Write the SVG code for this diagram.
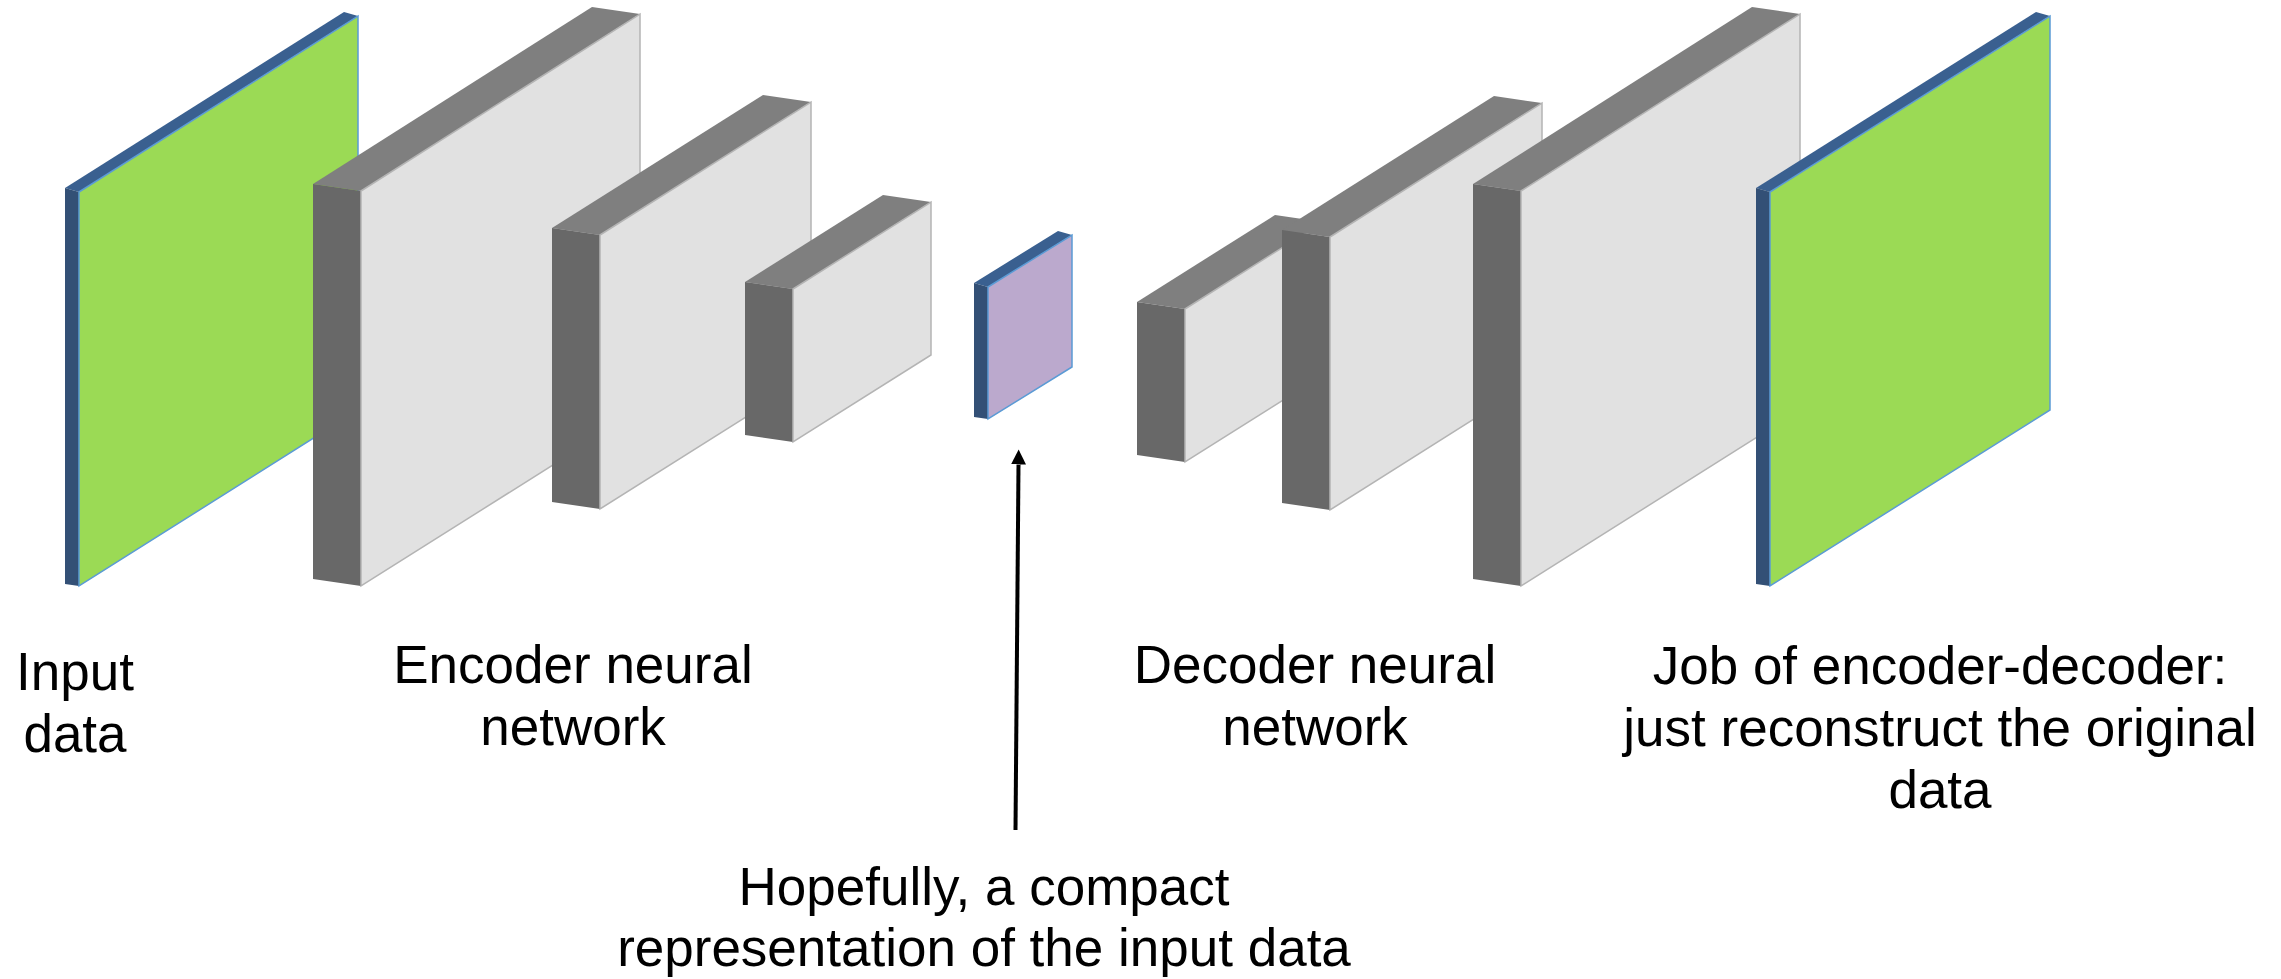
<svg xmlns="http://www.w3.org/2000/svg" width="2281" height="979" viewBox="0 0 2281 979">
  <style>
    .front-g { fill: #9BDA55; stroke: #5B9BD5; stroke-width: 1.5; }
    .front-p { fill: #BBA9CD; stroke: #5B9BD5; stroke-width: 1.5; }
    .edge-top { fill: #3A6090; }
    .edge-side { fill: #335076; }
    .box-front { fill: #E1E1E1; stroke: #B4B4B4; stroke-width: 1.5; }
    .box-top { fill: #7F7F7F; }
    .box-side { fill: #686868; }
    .label { font-family: "Liberation Sans", Arial, sans-serif; font-size: 53px; fill: #000; text-anchor: middle; }
    .conn { stroke: #000; stroke-width: 4; fill: none; }
  </style>
  <defs>
    <marker id="arrowhead" markerWidth="15" markerHeight="15" refX="0" refY="7.5" orient="auto" markerUnits="userSpaceOnUse" viewBox="0 0 15 15">
      <path d="M0,0 L15,7.5 L0,15 Z" fill="#000"/>
    </marker>
  </defs>

  <!-- input layer (thin plate) -->
  <g id="input-layer">
    <polygon class="edge-top" points="65,188 344,12 358,16 79,192"/>
    <polygon class="edge-side" points="65,188 79,192 79,586 65,584"/>
    <polygon class="front-g" points="79,192 358,16 358,410 79,586"/>
  </g>

  <!-- encoder blocks -->
  <g id="encoder-block-1">
    <polygon class="box-top" points="313,184 592,7 640,14 361,191"/>
    <polygon class="box-side" points="313,184 361,191 361,586 313,579"/>
    <polygon class="box-front" points="361,191 640,14 640,410 361,586"/>
  </g>
  <g id="encoder-block-2">
    <polygon class="box-top" points="552,228 763,95 811,102 600,235"/>
    <polygon class="box-side" points="552,228 600,235 600,509 552,502"/>
    <polygon class="box-front" points="600,235 811,102 811,376 600,509"/>
  </g>
  <g id="encoder-block-3">
    <polygon class="box-top" points="745,282 883,195 931,202 793,289"/>
    <polygon class="box-side" points="745,282 793,289 793,442 745,435"/>
    <polygon class="box-front" points="793,289 931,202 931,355 793,442"/>
  </g>

  <!-- compact code (thin plate) -->
  <g id="code-layer">
    <polygon class="edge-top" points="974,283 1058,231 1072,235 988,287"/>
    <polygon class="edge-side" points="974,283 988,287 988,419 974,417"/>
    <polygon class="front-p" points="988,287 1072,235 1072,367 988,419"/>
  </g>

  <!-- decoder blocks -->
  <g id="decoder-block-1">
    <polygon class="box-top" points="1137,302 1275,215 1323,222 1185,309"/>
    <polygon class="box-side" points="1137,302 1185,309 1185,462 1137,455"/>
    <polygon class="box-front" points="1185,309 1323,222 1323,375 1185,462"/>
  </g>
  <g id="decoder-block-2">
    <polygon class="box-top" points="1282,230 1494,96 1542,103 1330,237"/>
    <polygon class="box-side" points="1282,230 1330,237 1330,510 1282,503"/>
    <polygon class="box-front" points="1330,237 1542,103 1542,376 1330,510"/>
  </g>
  <g id="decoder-block-3">
    <polygon class="box-top" points="1473,184 1752,7 1800,14 1521,191"/>
    <polygon class="box-side" points="1473,184 1521,191 1521,586 1473,579"/>
    <polygon class="box-front" points="1521,191 1800,14 1800,410 1521,586"/>
  </g>

  <!-- output layer (thin plate) -->
  <g id="output-layer">
    <polygon class="edge-top" points="1756,188 2036,12 2050,16 1770,192"/>
    <polygon class="edge-side" points="1756,188 1770,192 1770,586 1756,584"/>
    <polygon class="front-g" points="1770,192 2050,16 2050,410 1770,586"/>
  </g>

  <!-- pointer to the code layer -->
  <g id="connectors">
    <line class="conn" x1="1015.5" y1="830" x2="1018.5" y2="464.5" marker-end="url(#arrowhead)"/>
  </g>

  <!-- captions -->
  <g id="label-input">
    <text class="label" x="75" y="690">Input</text>
    <text class="label" x="75" y="752">data</text>
  </g>
  <g id="label-encoder">
    <text class="label" x="573" y="683">Encoder neural</text>
    <text class="label" x="573" y="745">network</text>
  </g>
  <g id="label-decoder">
    <text class="label" x="1315" y="683">Decoder neural</text>
    <text class="label" x="1315" y="745">network</text>
  </g>
  <g id="label-job">
    <text class="label" x="1940" y="684">Job of encoder-decoder:</text>
    <text class="label" x="1940" y="746">just reconstruct the original</text>
    <text class="label" x="1940" y="808">data</text>
  </g>
  <g id="label-code">
    <text class="label" x="984" y="905">Hopefully, a compact</text>
    <text class="label" x="984" y="966">representation of the input data</text>
  </g>
</svg>
